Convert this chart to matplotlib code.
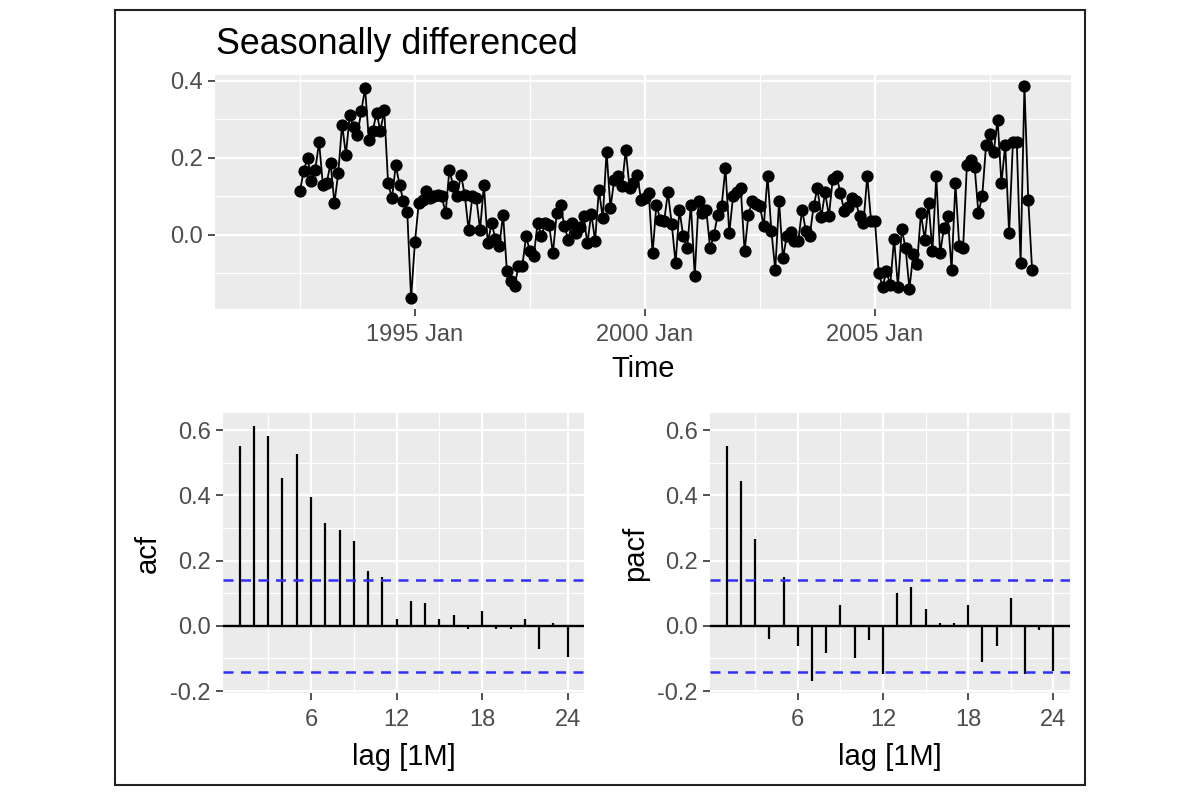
import matplotlib
matplotlib.use("Agg")
import matplotlib.pyplot as plt
from matplotlib.patches import Rectangle
import numpy as np

plt.rcParams['font.family'] = ['Liberation Sans', 'DejaVu Sans']

# ---------------- data ----------------
start_year = 1992
start_month = 7          # first seasonally differenced observation (1992 Jul)
series_start = 1991.5    # first month of the original series (NA after differencing)

sd_values = [
    # 1992 Jul-Dec
    0.113, 0.166, 0.200, 0.140, 0.169, 0.240,
    # 1993
    0.130, 0.135, 0.186, 0.082, 0.160, 0.286, 0.208, 0.310, 0.280, 0.260, 0.320, 0.380,
    # 1994
    0.245, 0.270, 0.316, 0.270, 0.323, 0.135, 0.095, 0.180, 0.130, 0.087, 0.060, -0.165,
    # 1995
    -0.020, 0.082, 0.090, 0.113, 0.095, 0.100, 0.104, 0.100, 0.056, 0.169, 0.126, 0.100,
    # 1996
    0.156, 0.104, 0.013, 0.100, 0.095, 0.013, 0.130, -0.022, 0.030, -0.010, -0.030, 0.052,
    # 1997
    -0.095, -0.120, -0.134, -0.082, -0.082, -0.004, -0.043, -0.056, 0.030, -0.004, 0.030, 0.026,
    # 1998
    -0.048, 0.056, 0.078, 0.022, -0.013, 0.030, 0.004, 0.020, 0.048, -0.022, 0.055, -0.015,
    # 1999
    0.117, 0.043, 0.216, 0.069, 0.143, 0.153, 0.126, 0.220, 0.121, 0.134, 0.156, 0.090,
    # 2000
    0.095, 0.108, -0.048, 0.078, 0.039, 0.035, 0.110, 0.028, -0.074, 0.065, -0.004, -0.035,
    # 2001
    0.078, -0.108, 0.087, 0.056, 0.065, -0.035, 0.000, 0.052, 0.074, 0.173, 0.004, 0.100,
    # 2002
    0.110, 0.121, -0.043, 0.052, 0.087, 0.080, 0.074, 0.022, 0.153, 0.009, -0.091, 0.087,
    # 2003
    -0.061, -0.004, 0.006, -0.017, -0.017, 0.065, 0.009, -0.003, 0.074, 0.121, 0.046, 0.110,
    # 2004
    0.049, 0.145, 0.152, 0.108, 0.061, 0.072, 0.095, 0.087, 0.048, 0.030, 0.152, 0.035,
    # 2005
    0.037, -0.100, -0.135, -0.095, -0.130, -0.010, -0.135, 0.015, -0.035, -0.140, -0.050, -0.075,
    # 2006
    0.056, -0.013, 0.082, -0.043, 0.152, -0.048, 0.017, 0.048, -0.091, 0.134, -0.030, -0.035,
    # 2007
    0.182, 0.195, 0.177, 0.056, 0.101, 0.234, 0.262, 0.216, 0.299, 0.134, 0.234, 0.004,
    # 2008 Jan-Jun
    0.240, 0.240, -0.074, 0.387, 0.091, -0.091,
]

lags = list(range(1, 25))
acf_values = [0.553, 0.613, 0.583, 0.455, 0.527, 0.394, 0.314, 0.295, 0.260, 0.169,
              0.149, 0.021, 0.077, 0.071, 0.021, 0.033, -0.010, 0.046, -0.009, -0.009,
              0.021, -0.070, 0.010, -0.095]
pacf_values = [0.553, 0.444, 0.265, -0.039, 0.149, -0.063, -0.168, -0.083, 0.064, -0.100,
               -0.045, -0.148, 0.101, 0.119, 0.051, 0.008, 0.008, 0.064, -0.111, -0.063,
               0.084, -0.148, -0.014, -0.138]

time_ticks = [1995, 2000, 2005]
time_labels = ["1995 Jan", "2000 Jan", "2005 Jan"]
time_minor = [1992.5, 1997.5, 2002.5, 2007.5]
lag_ticks = [6, 12, 18, 24]
lag_minor = [3, 9, 15, 21]
corr_ticks = [-0.2, 0.0, 0.2, 0.4, 0.6]
corr_minor = [-0.1, 0.1, 0.3, 0.5]
ts_ticks = [0.0, 0.2, 0.4]
ts_minor = [-0.1, 0.1, 0.3]

# ---------------- style ----------------
W, H = 1200, 792
PANEL = "#EBEBEB"
TICKCOL = "#4D4D4D"
TICK_FS = 17
LAB_FS = 21

fig = plt.figure(figsize=(W / 100, H / 100), dpi=100)
fig.patch.set_facecolor("white")


def axes_px(left, top, right, bottom):
    return fig.add_axes([left / W, 1 - bottom / H, (right - left) / W, (bottom - top) / H])


def style(ax, xmaj, xmin_, ymaj, ymin_):
    ax.set_facecolor(PANEL)
    for s in ax.spines.values():
        s.set_visible(False)
    ax.set_axisbelow(True)
    ax.set_xticks(xmaj)
    ax.set_xticks(xmin_, minor=True)
    ax.set_yticks(ymaj)
    ax.set_yticks(ymin_, minor=True)
    ax.grid(which="major", color="white", lw=1.6)
    ax.grid(which="minor", color="white", lw=0.9)
    ax.tick_params(which="major", length=5, width=1.2, color="#333333",
                   labelsize=TICK_FS, labelcolor=TICKCOL, pad=4)
    ax.tick_params(axis="x", which="major", pad=6)
    ax.tick_params(which="minor", length=0)


# ---------------- top: time series ----------------
n = len(sd_values)
t = start_year + (start_month - 1) / 12 + np.arange(n) / 12.0
ax1 = axes_px(215, 75, 1071, 309)
ax1.plot(t, sd_values, color="black", lw=1.3, zorder=3)
ax1.plot(t, sd_values, "o", color="black", ms=7.8, zorder=4)
span = t[-1] - series_start
ax1.set_xlim(series_start - 0.05 * span, t[-1] + 0.05 * span)
yr = max(sd_values) - min(sd_values)
ax1.set_ylim(min(sd_values) - 0.05 * yr, max(sd_values) + 0.05 * yr)
style(ax1, time_ticks, time_minor, ts_ticks, ts_minor)
ax1.set_xticklabels(time_labels)
ax1.set_yticklabels([f"{v:.1f}" for v in ts_ticks])
ax1.set_xlabel("Time", fontsize=LAB_FS, va="center")
ax1.xaxis.set_label_coords(0.5, (309 - 369) / (309 - 75))

fig.text(216 / W, 1 - 45 / H, "Seasonally differenced", fontsize=25.8,
         ha="left", va="center", color="black")

# ---------------- bottom: ACF / PACF ----------------
ci = 1.96 / np.sqrt(n)
lo = min(min(acf_values), min(pacf_values), -ci)
hi = max(max(acf_values), max(pacf_values), ci)
cr = hi - lo
ylims = (lo - 0.05 * cr, hi + 0.05 * cr)
lr = max(lags) - min(lags)
xlims = (min(lags) - 0.05 * lr, max(lags) + 0.05 * lr)


def corr_panel(rect, vals, label, label_x):
    ax = axes_px(*rect)
    ax.vlines(lags, 0, vals, color="black", lw=1.6, zorder=3)
    ax.axhline(0, color="black", lw=1.7, zorder=3)
    for c in (ci, -ci):
        ax.axhline(c, color="#2F2FFF", lw=1.8, ls=(0, (4, 3)), zorder=3)
    ax.set_xlim(*xlims)
    ax.set_ylim(*ylims)
    style(ax, lag_ticks, lag_minor, corr_ticks, corr_minor)
    ax.set_yticklabels([f"{v:.1f}" for v in corr_ticks])
    ax.set_xlabel("lag [1M]", fontsize=LAB_FS, va="center")
    ax.xaxis.set_label_coords(0.5, (693.3 - 757) / (693.3 - 413.3))
    ax.set_ylabel(label, fontsize=LAB_FS, va="center", ha="center")
    ax.yaxis.set_label_coords(label_x, 0.5)
    return ax


ax2 = corr_panel((223.3, 413.3, 584.1, 693.3), acf_values, "acf", (148 - 223.3) / 360.8)
ax3 = corr_panel((710.4, 413.3, 1069.7, 693.3), pacf_values, "pacf", (635 - 710.4) / 359.3)

# outer frame
fig.patches.append(Rectangle((115 / W, 1 - 785 / H), (1085 - 115) / W, (785 - 10) / H,
                             transform=fig.transFigure, fill=False,
                             edgecolor="#222222", lw=1.5))

fig.savefig("out.png", dpi=100, facecolor="white")
